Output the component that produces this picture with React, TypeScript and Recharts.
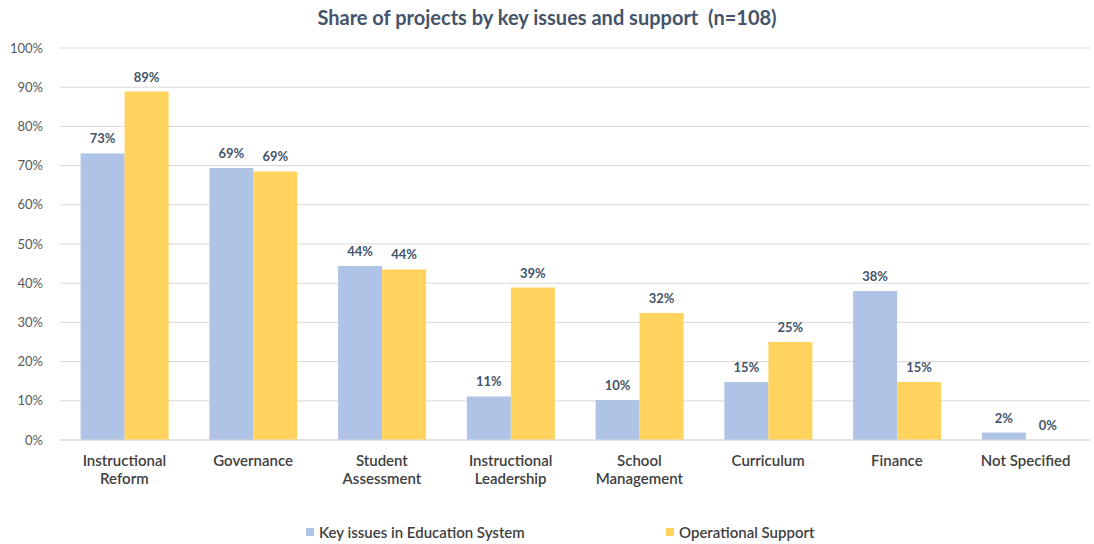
import React from "react"
import { BarChart, Bar, XAxis, YAxis, CartesianGrid } from "recharts"

const categories = [
  "Instructional\nReform",
  "Governance",
  "Student\nAssessment",
  "Instructional\nLeadership",
  "School\nManagement",
  "Curriculum",
  "Finance",
  "Not Specified",
]

// share of the 108 projects, in percent
const keyIssues = [73.1, 69.4, 44.4, 11.1, 10.2, 14.8, 38.0, 1.9]
const operational = [88.9, 68.5, 43.5, 38.9, 32.4, 25.0, 14.8, 0]

const yTicks = [0, 10, 20, 30, 40, 50, 60, 70, 80, 90, 100]

const seriesNames = ["Key issues in Education System", "Operational Support"]
const COLORS = ["#AFC3E6", "#FFD35E"]

const data = categories.map((name, i) => ({
  name,
  key: keyIssues[i],
  ops: operational[i],
}))

const FONT = "Lato, 'Open Sans', sans-serif"

function CategoryTick(props: any) {
  const { x, y, payload } = props
  const lines = String(payload.value).split("\n")
  return (
    <text x={x} y={y} textAnchor="middle" fill="#404040" fontSize={15} fontWeight={600} fontFamily={FONT}>
      {lines.map((line, i) => (
        <tspan key={i} x={x} dy={i === 0 ? 18 : 18}>
          {line}
        </tspan>
      ))}
    </text>
  )
}

// draws the bar and its value label, so a 0% bar still gets its label
function BarWithLabel(props: any) {
  const { x, y, width, height, fill, value } = props
  const v = Array.isArray(value) ? value[1] - value[0] : value
  return (
    <g>
      {height > 0 && <rect x={x} y={y} width={width} height={height} fill={fill} />}
      <text
        x={x + width / 2}
        y={y - 10}
        textAnchor="middle"
        fill="#44546A"
        fontSize={13}
        fontWeight={700}
        fontFamily={FONT}
      >
        {`${Math.round(v)}%`}
      </text>
    </g>
  )
}

export default function App() {
  return (
    <div style={{ position: "absolute", left: 0, top: 0, width: 1094, height: 544, background: "#fff" }}>
      <div
        style={{
          position: "absolute",
          top: 5,
          left: 0,
          width: 1094,
          textAlign: "center",
          fontFamily: FONT,
          fontWeight: 700,
          fontSize: 20,
          color: "#44546A",
          whiteSpace: "pre",
        }}
      >
        {"Share of projects by key issues and support  (n=108)"}
      </div>
      <BarChart
        width={1094}
        height={544}
        data={data}
        margin={{ top: 48, right: 4, left: 0, bottom: 44 }}
        barCategoryGap="16%"
        barGap={0}
      >
        <CartesianGrid vertical={false} stroke="#D9D9D9" />
        <XAxis
          dataKey="name"
          tick={<CategoryTick />}
          tickLine={false}
          axisLine={{ stroke: "#D9D9D9" }}
          height={60}
          interval={0}
        />
        <YAxis
          width={60}
          domain={[0, 100]}
          ticks={yTicks}
          tickFormatter={(v: number) => `${v}%`}
          tick={{ fontSize: 13, fill: "#595959", fontFamily: FONT }}
          tickSize={0}
          tickMargin={17}
          axisLine={false}
          tickLine={false}
        />
        <Bar dataKey="key" fill={COLORS[0]} isAnimationActive={false} shape={<BarWithLabel />} />
        <Bar dataKey="ops" fill={COLORS[1]} isAnimationActive={false} shape={<BarWithLabel />} />
      </BarChart>
      {seriesNames.map((n, i) => (
        <div
          key={n}
          style={{
            position: "absolute",
            top: 523,
            left: i === 0 ? 306 : 666,
            display: "flex",
            alignItems: "center",
            fontFamily: FONT,
            fontSize: 15,
            fontWeight: 600,
            color: "#404040",
            whiteSpace: "nowrap",
          }}
        >
          <span style={{ width: 8, height: 8, background: COLORS[i], marginRight: 5, display: "inline-block" }} />
          {n}
        </div>
      ))}
    </div>
  )
}
